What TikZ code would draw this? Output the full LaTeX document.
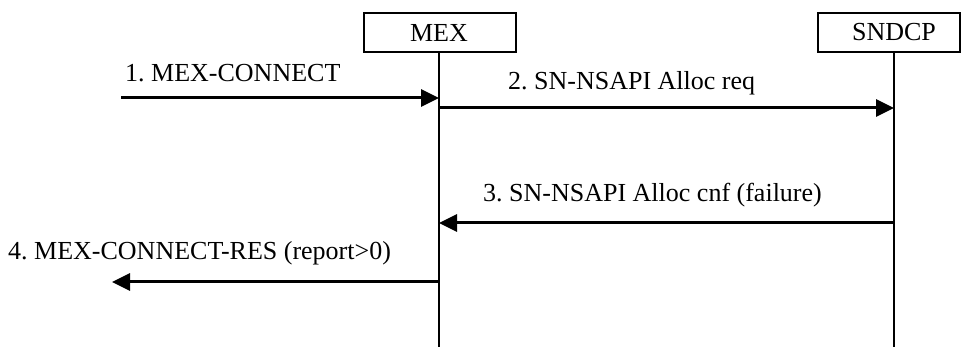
\documentclass[tikz,border=0pt]{standalone}
\usepackage{fontspec}
\setmainfont{Liberation Serif}
\usetikzlibrary{arrows.meta}
\frenchspacing
\begin{document}
\begin{tikzpicture}[x=1pt,y=-1pt,
  entity/.style={draw=black,line width=1.3pt,minimum height=39pt,inner sep=0pt},
  lifeline/.style={draw=black,line width=1.5pt},
  msg/.style={draw=black,line width=3pt,-{Triangle[length=18pt,width=17pt]}},
  lbl/.style={anchor=base west,inner sep=0pt,font=\fontsize{26}{30}\selectfont}]
\useasboundingbox (0,0) rectangle (961,347);
% entities
\node[entity,minimum width=152pt] (mexbox) at (440,32.5) {};
\node[inner sep=0pt,font=\fontsize{26}{30}\selectfont] (mexlbl) at (439,32.5) {MEX};
\node[entity,minimum width=142pt] (sndbox) at (889,32.5) {};
\node[inner sep=0pt,font=\fontsize{26}{30}\selectfont] (sndlbl) at (894,32.5) {SNDCP};
% lifelines
\coordinate (mextop) at (439,52);
\coordinate (mexbot) at (439,347);
\coordinate (sndtop) at (894,52);
\coordinate (sndbot) at (894,347);
\draw[lifeline] (mextop) -- (mexbot);
\draw[lifeline] (sndtop) -- (sndbot);
% message 1
\coordinate (m1s) at (121,98);
\coordinate (m1e) at (439,98);
\draw[msg] (m1s) -- (m1e);
\node[lbl] (l1) at (125,82) {1. MEX-CONNECT};
% message 2
\coordinate (m2s) at (439,108);
\coordinate (m2e) at (894,108);
\draw[msg] (m2s) -- (m2e);
\node[lbl] (l2) at (508,90) {2. SN-NSAPI Alloc req};
% message 3
\coordinate (m3s) at (894,223);
\coordinate (m3e) at (439,223);
\draw[msg] (m3s) -- (m3e);
\node[lbl] (l3) at (483,202) {3. SN-NSAPI Alloc cnf (failure)};
% message 4
\coordinate (m4s) at (439,282);
\coordinate (m4e) at (112,282);
\draw[msg] (m4s) -- (m4e);
\node[lbl] (l4) at (8,260) {4. MEX-CONNECT-RES (report>0)};
\end{tikzpicture}
\end{document}
